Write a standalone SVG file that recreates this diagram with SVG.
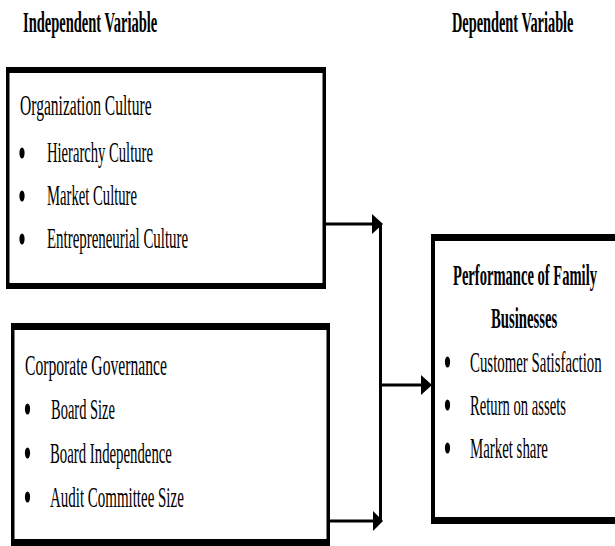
<svg xmlns="http://www.w3.org/2000/svg" width="615" height="546" viewBox="0 0 615 546">
<style>
text{font-family:"Liberation Serif","Times New Roman",serif;font-size:30px;fill:#000;}
.b{font-weight:bold;}
.frame{fill:#000;fill-rule:evenodd;}
.ln{stroke:#000;stroke-width:3;fill:none;}
.hd{fill:#000;}
</style>
<rect width="615" height="546" fill="#fff"/>
<g id="headings">
<text class="b" transform="translate(23,32) scale(0.484,1)">Independent Variable</text>
<text class="b" transform="translate(452,32) scale(0.478,1)">Dependent Variable</text>
</g>
<g id="node-org-culture">
<path class="frame" d="M6,67H326V289H6Z M9.5,73V283H322.5V73Z"/>
<text transform="translate(20,115) scale(0.519,1)">Organization Culture</text>
<ellipse cx="22" cy="153" rx="2.6" ry="5.5"/>
<text transform="translate(47,162) scale(0.4875,1)">Hierarchy Culture</text>
<ellipse cx="22" cy="196" rx="2.6" ry="5.5"/>
<text transform="translate(47,205) scale(0.489,1)">Market Culture</text>
<ellipse cx="22" cy="239" rx="2.6" ry="5.5"/>
<text transform="translate(47,248) scale(0.497,1)">Entrepreneurial Culture</text>
</g>
<g id="node-corp-governance">
<path class="frame" d="M11,323H330V548H11Z M14.5,330V539H326.5V330Z"/>
<text transform="translate(25,375) scale(0.521,1)">Corporate Governance</text>
<ellipse cx="27.5" cy="409" rx="2.6" ry="5.5"/>
<text transform="translate(51,419) scale(0.483,1)">Board Size</text>
<ellipse cx="27.5" cy="453" rx="2.6" ry="5.5"/>
<text transform="translate(50,463) scale(0.493,1)">Board Independence</text>
<ellipse cx="27.5" cy="497" rx="2.6" ry="5.5"/>
<text transform="translate(50,507) scale(0.499,1)">Audit Committee Size</text>
</g>
<g id="node-performance">
<path class="frame" d="M431,234H620V524H431Z M435,241V517H620V241Z"/>
<text class="b" transform="translate(453,285) scale(0.4855,1)">Performance of Family</text>
<text class="b" transform="translate(491,328) scale(0.491,1)">Businesses</text>
<ellipse cx="447.5" cy="362" rx="2.6" ry="5.5"/>
<text transform="translate(470,372) scale(0.496,1)">Customer Satisfaction</text>
<ellipse cx="447.5" cy="405" rx="2.6" ry="5.5"/>
<text transform="translate(470,415) scale(0.488,1)">Return on assets</text>
<ellipse cx="447.5" cy="448" rx="2.6" ry="5.5"/>
<text transform="translate(470,458) scale(0.4955,1)">Market share</text>
</g>
<g id="connectors">
<line class="ln" x1="326" y1="224" x2="374" y2="224"/>
<polygon class="hd" points="372,214 383,224 372,234"/>
<line class="ln" x1="330" y1="521" x2="374" y2="521"/>
<polygon class="hd" points="373,511 383,521 373,531"/>
<line class="ln" x1="380.5" y1="224" x2="380.5" y2="522"/>
<line class="ln" x1="380.5" y1="385" x2="423" y2="385"/>
<polygon class="hd" points="421,375 432,385 421,395"/>
</g>
</svg>
